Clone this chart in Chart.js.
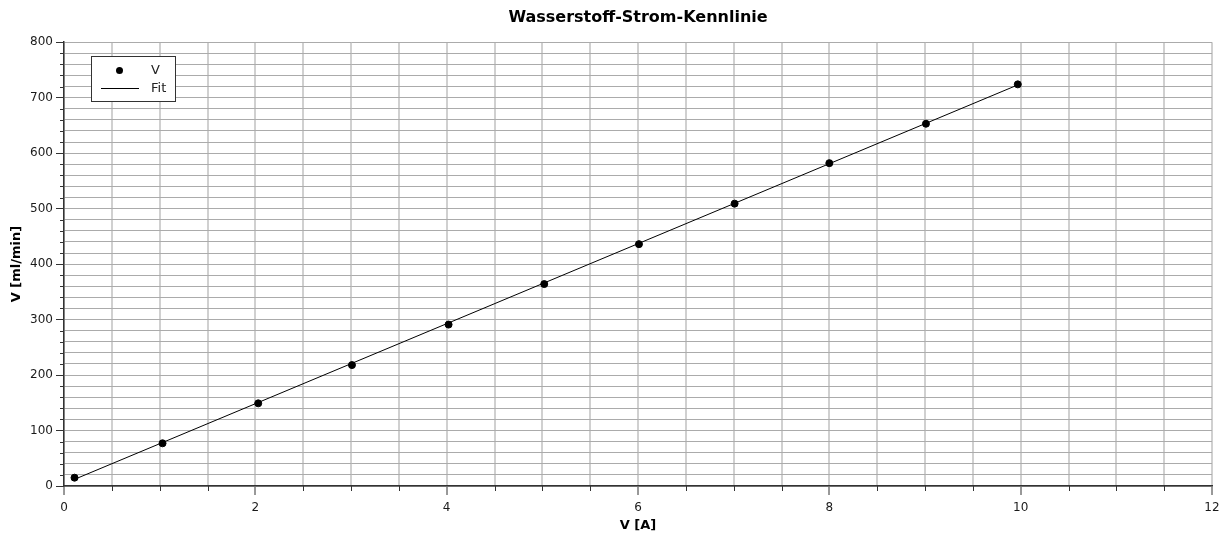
<!DOCTYPE html>
<html>
<head>
<meta charset="utf-8">
<script src="https://cdn.jsdelivr.net/npm/chart.js@4"></script>
<style>
  body { margin: 0; background: #fff; }
  #wrap { width: 1223px; height: 537px; position: relative; }
</style>
</head>
<body>
<div id="wrap"><canvas id="chart"></canvas></div>
<script>
// Messwerte
const stromA = [0.11, 1.03, 2.03, 3.01, 4.02, 5.02, 6.01, 7.01, 8.0, 9.01, 9.97];
const volumenMlMin = [15, 77, 149, 218, 291, 364, 436, 509, 582, 653, 724];

// Fit-Gerade (Endpunkte aus dem Bild)
const fitX = [0.11, 9.97];
const fitY = [12, 723];

const xTicksLabeled = [0, 2, 4, 6, 8, 10, 12];
const yTicksLabeled = [0, 100, 200, 300, 400, 500, 600, 700, 800];

const FONT = 'DejaVu Sans';
const AXIS = '#333333';

function isMajor(list, v) {
  return list.some(t => Math.abs(t - v) < 1e-6);
}

// kurze Zwischenstriche an den Achsen
const minorTicks = {
  id: 'minorTicks',
  afterDraw(chart) {
    const c = chart.ctx;
    const xs = chart.scales.x, ys = chart.scales.y;
    c.save();
    c.strokeStyle = AXIS;
    c.lineWidth = 1;
    c.beginPath();
    xs.ticks.forEach(t => {
      if (isMajor(xTicksLabeled, t.value)) return;
      const px = Math.round(xs.getPixelForValue(t.value)) + 0.5;
      c.moveTo(px, xs.top);
      c.lineTo(px, xs.top + 5);
    });
    ys.ticks.forEach(t => {
      if (isMajor(yTicksLabeled, t.value)) return;
      const py = Math.round(ys.getPixelForValue(t.value)) + 0.5;
      c.moveTo(ys.right, py);
      c.lineTo(ys.right - 4, py);
    });
    c.stroke();
    c.restore();
  }
};

// Legende im Diagramm
const boxLegend = {
  id: 'boxLegend',
  afterDraw(chart) {
    const c = chart.ctx;
    const ds = chart.data.datasets;
    c.save();
    c.fillStyle = '#fff';
    c.fillRect(91.5, 56.5, 84, 45);
    c.strokeStyle = AXIS;
    c.lineWidth = 1;
    c.strokeRect(91.5, 56.5, 84, 45);
    c.fillStyle = '#000';
    c.beginPath();
    c.arc(119.5, 70.5, 3.5, 0, Math.PI * 2);
    c.fill();
    c.strokeStyle = '#000';
    c.beginPath();
    c.moveTo(101, 88.5);
    c.lineTo(139, 88.5);
    c.stroke();
    c.fillStyle = '#222';
    c.font = '13px "' + FONT + '"';
    c.textBaseline = 'middle';
    c.fillText(ds[0].label, 151, 71);
    c.fillText(ds[1].label, 151, 89);
    c.restore();
  }
};

new Chart(document.getElementById('chart'), {
  type: 'scatter',
  data: {
    datasets: [{
      label: 'V',
      data: stromA.map((x, i) => ({ x: x, y: volumenMlMin[i] })),
      backgroundColor: '#000',
      borderColor: '#000',
      pointRadius: 3.5,
      pointHoverRadius: 3.5,
      showLine: false,
      order: 0
    }, {
      label: 'Fit',
      data: fitX.map((x, i) => ({ x: x, y: fitY[i] })),
      borderColor: '#000',
      borderWidth: 1,
      pointRadius: 0,
      showLine: true,
      order: 1
    }]
  },
  options: {
    responsive: true,
    maintainAspectRatio: false,
    animation: false,
    events: [],
    layout: { padding: { left: 0, right: 11, top: 0, bottom: 0 } },
    plugins: {
      legend: { display: false },
      tooltip: { enabled: false },
      title: {
        display: true,
        text: 'Wasserstoff-Strom-Kennlinie',
        fullSize: false,
        color: '#000',
        font: { family: FONT, size: 16, weight: 'bold' },
        padding: { top: 8, bottom: 15 }
      }
    },
    scales: {
      x: {
        type: 'linear',
        min: 0,
        max: 12,
        afterFit(scale) {
          scale.height = 51;
          scale.paddingRight = 0;
          scale.paddingLeft = 0;
        },
        ticks: {
          stepSize: 0.5,
          autoSkip: false,
          maxRotation: 0,
          padding: 6,
          color: '#1a1a1a',
          font: { family: FONT, size: 12 },
          callback: v => isMajor(xTicksLabeled, v) ? String(v) : ''
        },
        grid: {
          color: '#d0d0d0',
          lineWidth: 2,
          tickLength: 9,
          tickWidth: 1,
          tickColor: ctx => isMajor(xTicksLabeled, ctx.tick.value) ? AXIS : 'rgba(0,0,0,0)'
        },
        border: { color: AXIS, width: 1.5 },
        title: {
          display: true,
          text: 'V [A]',
          color: '#000',
          font: { family: FONT, size: 13, weight: 'bold' },
          padding: { top: 0, bottom: 4 }
        }
      },
      y: {
        type: 'linear',
        min: 0,
        max: 800,
        afterFit(scale) { scale.width = 64; },
        ticks: {
          stepSize: 20,
          autoSkip: false,
          padding: 3,
          color: '#1a1a1a',
          font: { family: FONT, size: 12 },
          callback: v => isMajor(yTicksLabeled, v) ? String(v) : ''
        },
        grid: {
          color: '#ababab',
          lineWidth: 1,
          tickLength: 8,
          tickWidth: 1,
          tickColor: ctx => isMajor(yTicksLabeled, ctx.tick.value) ? AXIS : 'rgba(0,0,0,0)'
        },
        border: { color: AXIS, width: 1.5 },
        title: {
          display: true,
          text: 'V [ml/min]',
          color: '#000',
          font: { family: FONT, size: 13, weight: 'bold' },
          padding: { top: 9, bottom: 0 }
        }
      }
    }
  },
  plugins: [minorTicks, boxLegend]
});
</script>
</body>
</html>
